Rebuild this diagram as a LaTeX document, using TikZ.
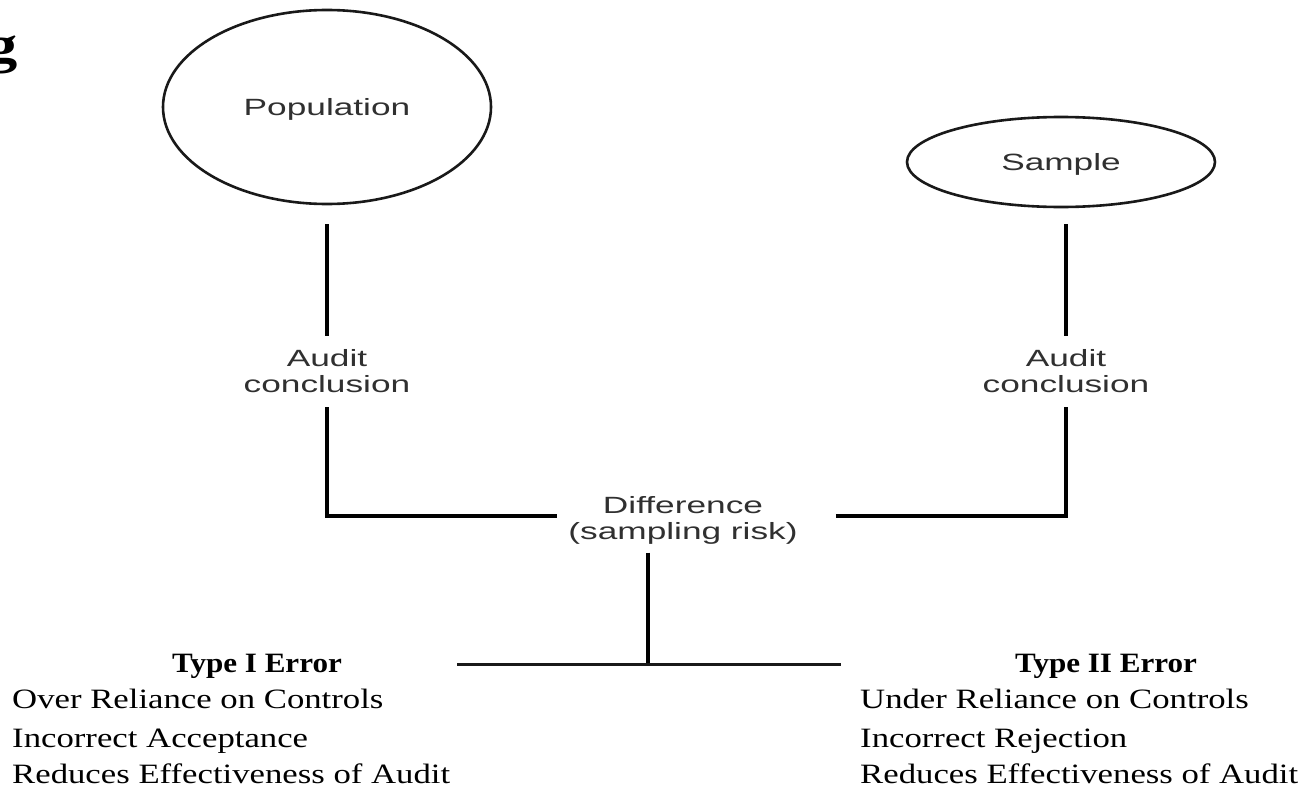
\documentclass[tikz,border=0pt]{standalone}
\usepackage{graphicx}
\usepackage{fontspec}
\setmainfont{Liberation Serif}
\setsansfont{Liberation Sans}
\usetikzlibrary{shapes.geometric,calc}
% widened lettering used throughout the chart
\newcommand{\wideS}[1]{\scalebox{1.5}[1]{#1}}
\newcommand{\wideR}[1]{\scalebox{1.24}[1]{#1}}
\newcommand{\wideB}[1]{\scalebox{1.11}[1]{#1}}
\definecolor{inkgray}{HTML}{303030}

\begin{document}
\begin{tikzpicture}[x=1pt,y=-1pt,
  bubble/.style={draw=black!90, line width=2.6pt, ellipse, inner sep=0pt,
    font=\sffamily\fontsize{23.5}{26}\selectfont, text=inkgray, text depth=0pt},
  sanslabel/.style={font=\sffamily\fontsize{23.5}{26}\selectfont, text=inkgray,
    align=center, inner xsep=0pt, inner ysep=14pt},
  wire/.style={line width=3.3pt, black},
  flatwire/.style={line width=3pt, black!90},
  serifline/.style={font=\fontsize{28}{34}\selectfont, anchor=base west, inner sep=0pt},
  serifhead/.style={font=\bfseries\fontsize{28}{34}\selectfont, anchor=base, inner sep=0pt}]
\useasboundingbox (0,0) rectangle (1306,792);

% heading fragment at the left edge
\node[font=\bfseries\fontsize{52}{60}\selectfont, anchor=base east, inner sep=0pt] (g) at (18,63) {\wideR{g}};

% population and sample
\node[bubble, minimum width=328pt, minimum height=194pt] (pop) at (327,107) {\wideS{Population}};
\node[bubble, minimum width=308pt, minimum height=90pt] (samp) at (1061,162) {\wideS{Sample}};

% audit conclusions
\node[sanslabel] (audL) at (327,371.5) {\wideS{Audit}\\\wideS{conclusion}};
\node[sanslabel] (audR) at (1066,371.5) {\wideS{Audit}\\\wideS{conclusion}};

% difference
\node[sanslabel, inner xsep=11pt, inner ysep=8pt] (diff) at (683,520.5)
  {\wideS{Difference}\\\wideS{(sampling risk)}};

% connectors
\coordinate (popfoot) at ($(pop.south)+(0,19)$);
\coordinate (sampfoot) at ($(samp.south)+(0,16)$);
\draw[wire] (popfoot) -- (audL.north);
\draw[wire] (sampfoot -| audR.north) -- (audR.north);
\draw[wire] (audL.south) |- ([yshift=4.5pt]diff.west);
\draw[wire] ([xshift=27pt,yshift=4.5pt]diff.east) -| (audR.south);

\coordinate (fork) at (648,664);
\coordinate (forkL) at (457,664);
\coordinate (forkR) at (841,664);
\draw[wire] (fork |- diff.south) -- (fork);
\draw[flatwire] (forkL) -- (forkR);

% error types
\node[serifhead] (t1h) at (257,672) {\wideB{Type I Error}};
\node[serifline] (t1a) at (12,708) {\wideR{Over Reliance on Controls}};
\node[serifline] (t1b) at (12,747) {\wideR{Incorrect Acceptance}};
\node[serifline] (t1c) at (12,783) {\wideR{Reduces Effectiveness of Audit}};

\node[serifhead] (t2h) at (1106,672) {\wideB{Type II Error}};
\node[serifline] (t2a) at (860,708) {\wideR{Under Reliance on Controls}};
\node[serifline] (t2b) at (860,747) {\wideR{Incorrect Rejection}};
\node[serifline] (t2c) at (860,783) {\wideR{Reduces Effectiveness of Audit}};
\end{tikzpicture}
\end{document}
